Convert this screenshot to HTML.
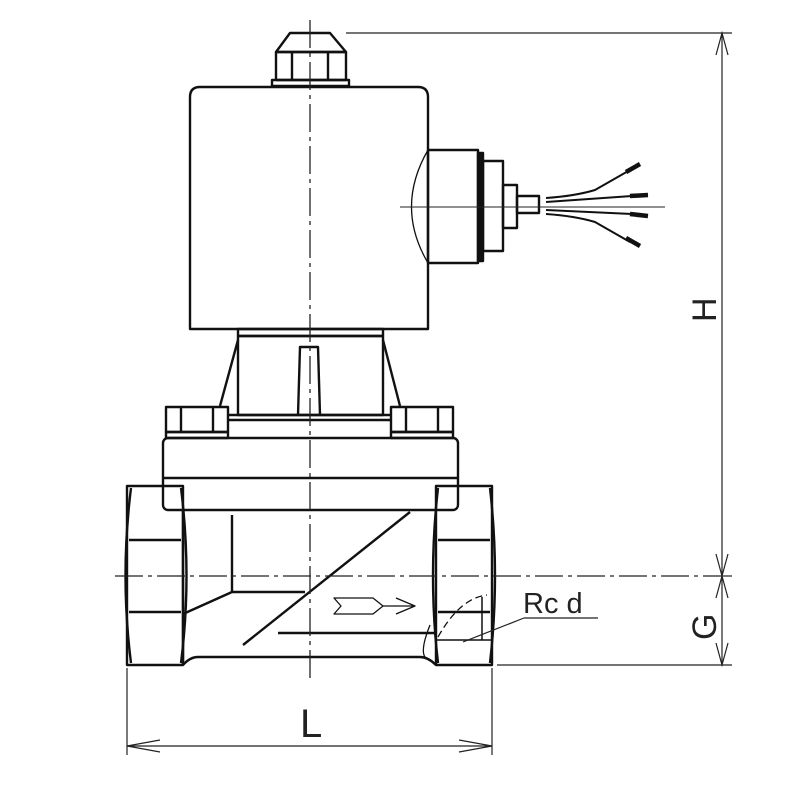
<!DOCTYPE html>
<html><head><style>body{margin:0;background:#fff}svg{display:block}</style></head><body>
<svg width="800" height="800" viewBox="0 0 800 800" xmlns="http://www.w3.org/2000/svg" font-family="Liberation Sans, sans-serif">
<g fill="none" stroke="#111" stroke-width="2.4" stroke-linejoin="round">
<!-- top nut -->
<path d="M290,33 L330,33 L346,52 L276,52 Z"/>
<rect x="276" y="52" width="70" height="28"/>
<line x1="292" y1="52" x2="292" y2="80"/><line x1="328" y1="52" x2="328" y2="80"/>
<rect x="272" y="80" width="77" height="6"/>
<!-- coil -->
<path d="M190,329 L190,97 Q190,87 200,87 L418,87 Q428,87 428,97 L428,329 Z"/>
<!-- connector -->
<path d="M428,150 Q395,207 428,263" stroke-width="1.3"/>
<rect x="428" y="150" width="50" height="113"/>
<rect x="478" y="153" width="5" height="108" fill="#111"/>
<rect x="483" y="161" width="20" height="90"/>
<rect x="503" y="185" width="14" height="43"/>
<rect x="517" y="196" width="22" height="17"/>
<g stroke-width="2">
<path d="M546,198 Q575,196 595,190 L630,170"/><path d="M546,202 L632,196"/>
<path d="M546,210 L632,214"/><path d="M546,214 Q575,216 595,222 L630,242"/>
</g>
<g stroke-width="4.5"><line x1="626" y1="172" x2="640" y2="164"/><line x1="630" y1="196" x2="648" y2="195"/><line x1="630" y1="214" x2="648" y2="216"/><line x1="626" y1="238" x2="640" y2="246"/></g>
<!-- bonnet -->
<rect x="238" y="329" width="145" height="7"/>
<rect x="238" y="336" width="145" height="79"/>
<line x1="238" y1="340" x2="220" y2="406"/><line x1="383" y1="340" x2="400" y2="406"/>
<path d="M298,415 L300,347 L318,347 L320,415"/>
<line x1="228" y1="415" x2="392" y2="415"/><line x1="228" y1="420" x2="392" y2="420"/>
<!-- bolts -->
<rect x="166" y="407" width="62" height="25"/><line x1="181" y1="407" x2="181" y2="432"/><line x1="213" y1="407" x2="213" y2="432"/>
<rect x="166" y="432" width="62" height="6"/>
<rect x="391" y="407" width="62" height="25"/><line x1="406" y1="407" x2="406" y2="432"/><line x1="438" y1="407" x2="438" y2="432"/>
<rect x="391" y="432" width="62" height="6"/>
<!-- flange -->
<rect x="163" y="438" width="295" height="72" rx="5"/>
<line x1="163" y1="478" x2="458" y2="478"/>
<!-- ports -->
<rect x="127" y="486" width="56" height="179"/>
<path d="M129,540 L181,540 M129,612 L181,612 M131,488 Q120,576 131,663 M181,488 Q192,576 181,663"/>
<rect x="436" y="486" width="56" height="179"/>
<path d="M438,540 L490,540 M438,612 L490,612 M438,488 Q428,576 438,663 M490,488 Q500,576 490,663"/>
<!-- body -->
<path d="M183,510 L183,665 M183,665 Q190,657 198,657 L420,657 Q428,657 436,665"/>
<line x1="232" y1="515" x2="232" y2="592"/><line x1="232" y1="592" x2="305" y2="592"/>
<line x1="183" y1="614" x2="232" y2="592"/>
<line x1="410" y1="512" x2="243" y2="645"/>
<line x1="278" y1="633" x2="436" y2="633"/>
<path d="M430,625 Q420,650 425,657" stroke-width="1.3"/>
<path d="M438,637 Q460,598 487,595" stroke-dasharray="7,4" stroke-width="1.3"/>
<line x1="482" y1="597" x2="482" y2="640" stroke-width="1.5"/>
<line x1="436" y1="640" x2="492" y2="640" stroke-width="1.5"/>
<!-- flow arrow -->
<path d="M334,598 L373,598 L383,606 L373,614 L334,614 L341,606 Z" stroke-width="1.3"/>
<path d="M383,606 L414,606 M396,598 L415,606 L396,614" stroke-width="1.3"/>
</g>
<!-- centerlines -->
<g stroke="#222" stroke-width="1.3" fill="none" stroke-dasharray="28,5,4,5">
<line x1="310" y1="20" x2="310" y2="682"/>
<line x1="115" y1="576" x2="720" y2="576"/>
</g>
<line x1="400" y1="207" x2="665" y2="207" stroke="#222" stroke-width="1"/>
<!-- dimensions -->
<g stroke="#222" stroke-width="1.2" fill="none">
<line x1="346" y1="33" x2="732" y2="33"/>
<line x1="497" y1="665" x2="732" y2="665"/>
<line x1="720" y1="576" x2="732" y2="576"/>
<line x1="722" y1="33" x2="722" y2="665"/>
<path d="M716,55 L722,33 L728,55 M716,554 L722,576 L728,554 M716,598 L722,576 L728,598 M716,643 L722,665 L728,643"/>
<line x1="127" y1="668" x2="127" y2="755"/><line x1="492" y1="668" x2="492" y2="755"/>
<line x1="127" y1="746" x2="492" y2="746"/>
<path d="M160,740 L127,746 L160,752 M459,740 L492,746 L459,752"/>
<line x1="524" y1="618" x2="598" y2="618"/>
<line x1="524" y1="618" x2="463" y2="642"/>
</g>
<g fill="#222">
<text x="300" y="737" font-size="40">L</text>
<text x="523" y="613" font-size="29">Rc d</text>
<text transform="translate(716,322) rotate(-90)" font-size="34">H</text>
<text transform="translate(716,640) rotate(-90)" font-size="34">G</text>
</g>
</svg>
</body></html>
